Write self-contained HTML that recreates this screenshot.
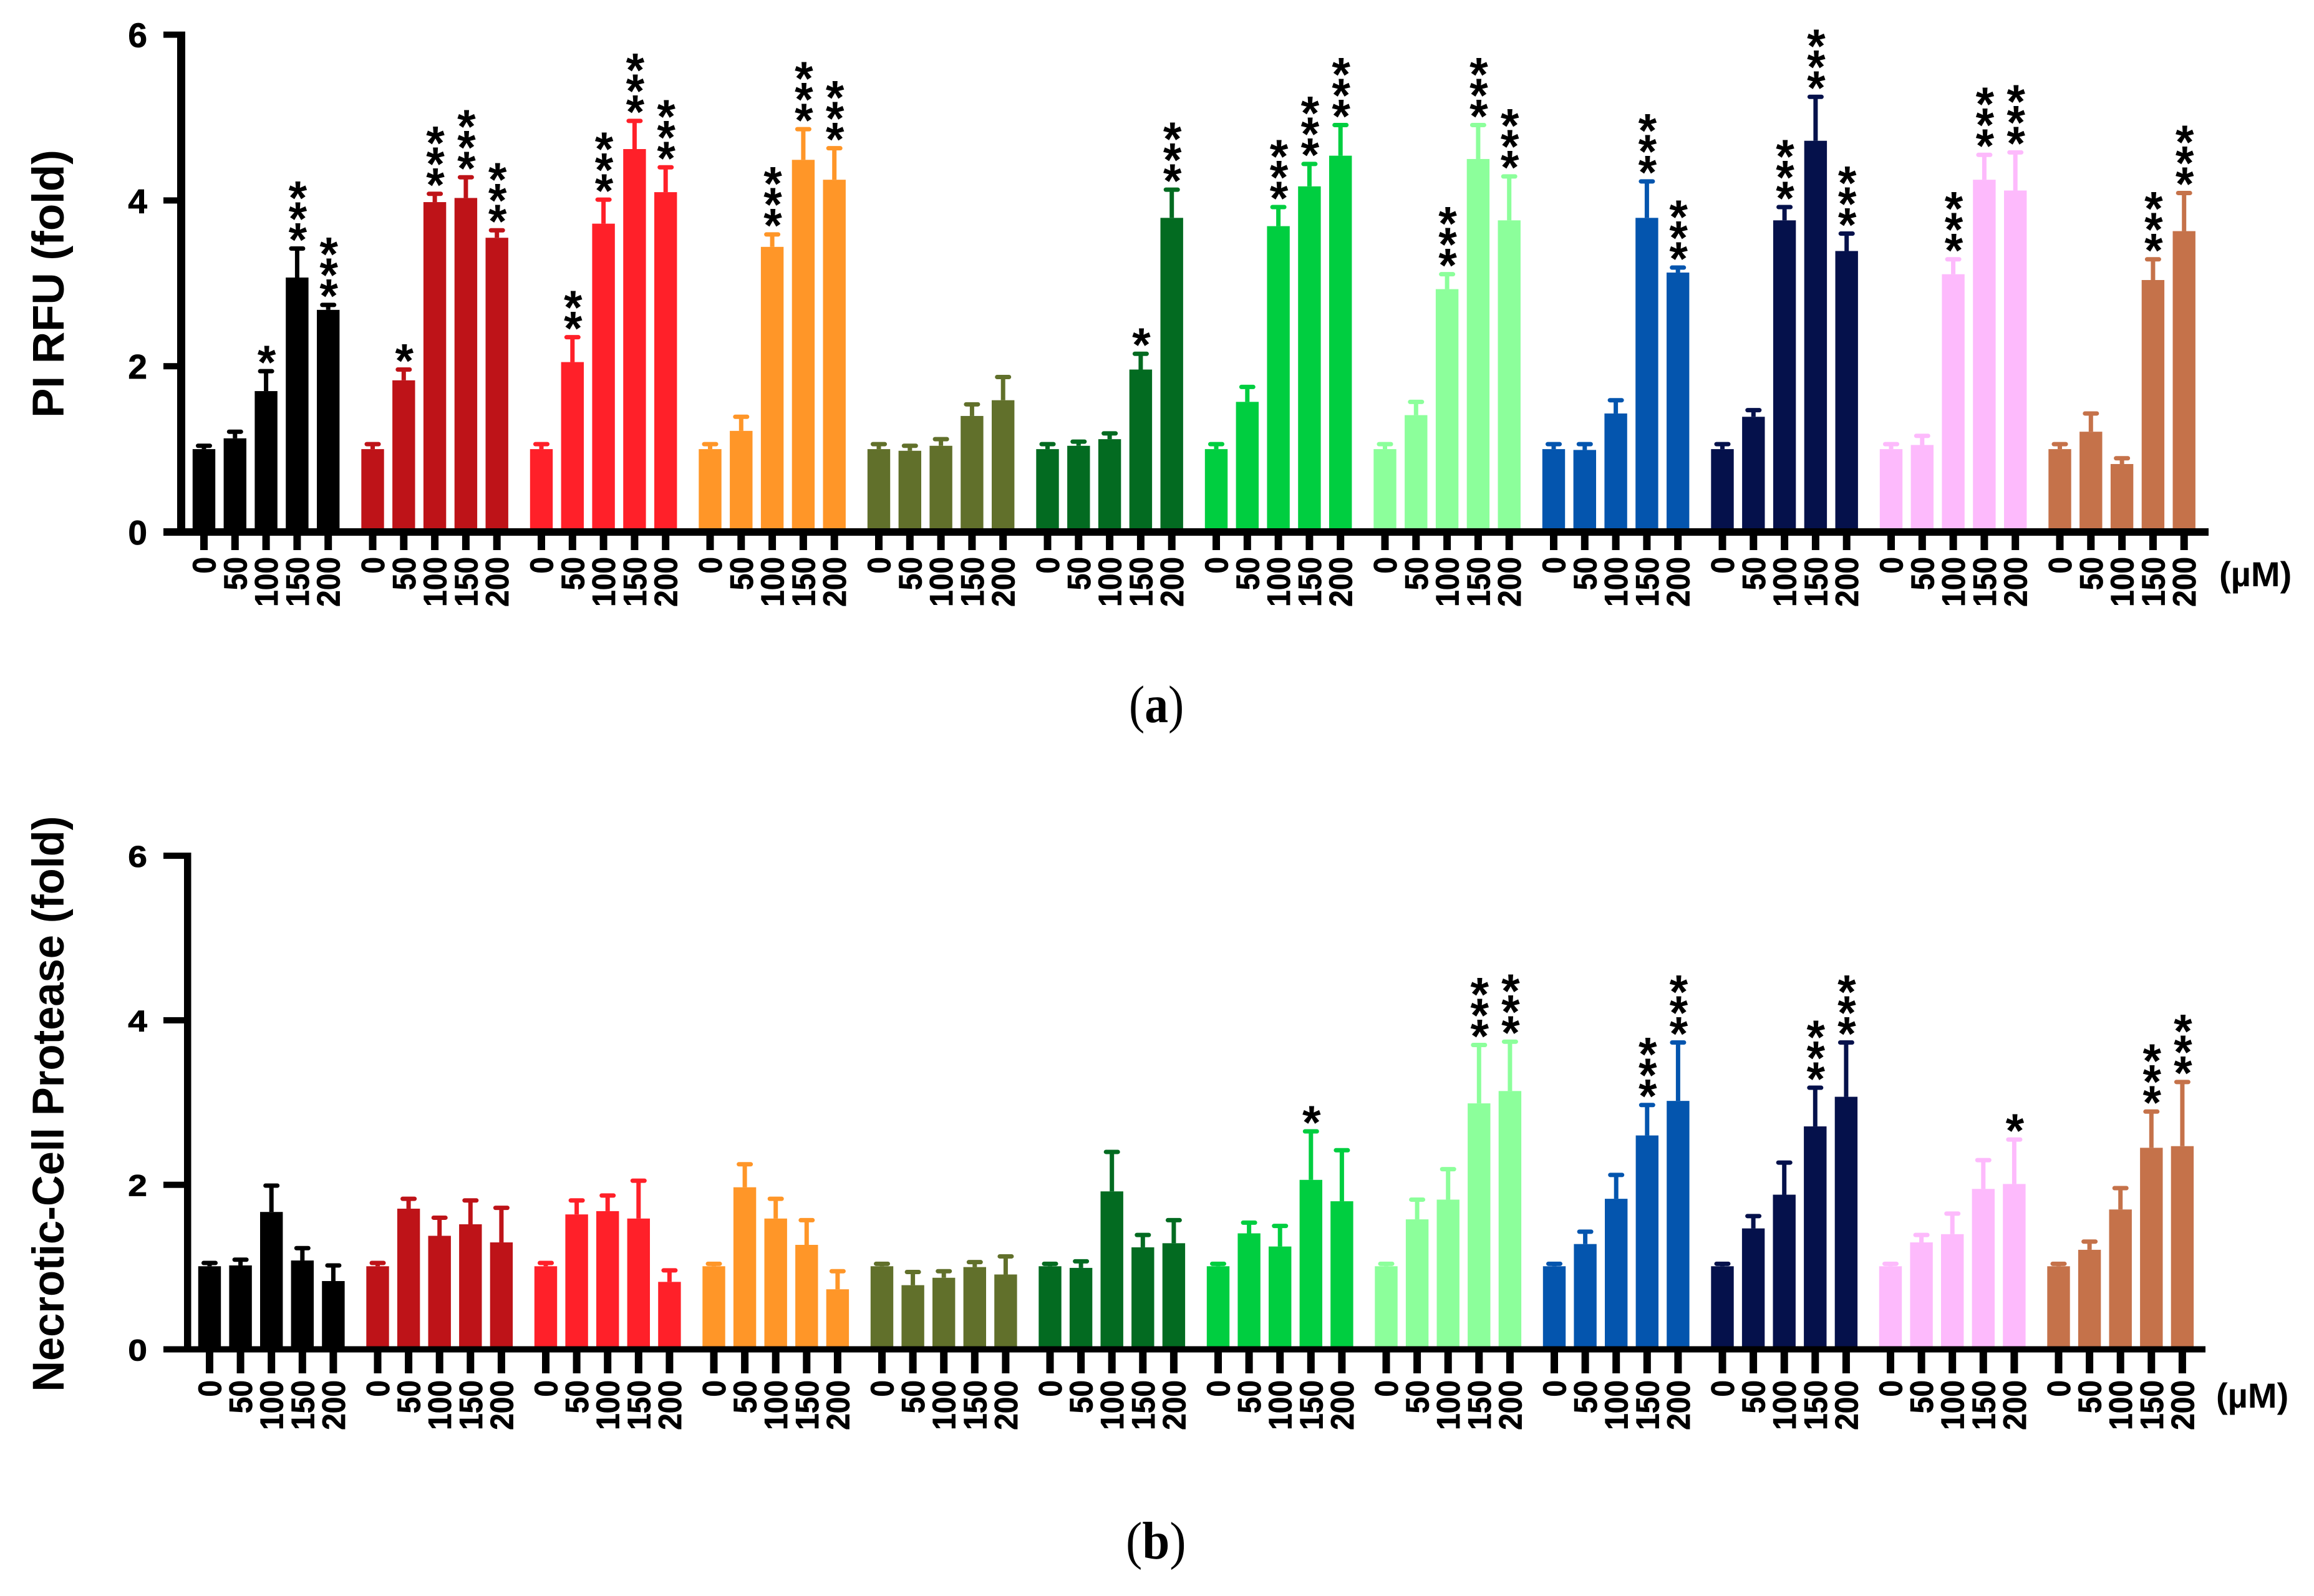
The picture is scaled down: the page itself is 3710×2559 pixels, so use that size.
<!DOCTYPE html>
<html lang="en">
<head>
<meta charset="utf-8">
<title>PI RFU and Necrotic-Cell Protease bar charts</title>
<style>
html,body{margin:0;padding:0;background:#fff;}
svg{display:block;}
text{font-family:"Liberation Sans",Arial,sans-serif;font-weight:bold;fill:#000;}
text.cap{font-family:"Liberation Serif","Times New Roman",serif;font-weight:normal;}
text.cap tspan{font-weight:bold;}
</style>
</head>
<body>
<svg id="figure" xmlns="http://www.w3.org/2000/svg" width="3710" height="2559" viewBox="0 0 3710 2559">
  <rect x="0" y="0" width="3710" height="2559" fill="#ffffff"/>
  <g id="panel-a"></g>
  <g id="panel-b"></g>
  <text class="cap" x="0" y="0" font-size="85" transform="translate(1810,1158) scale(0.89,1)">(<tspan>a</tspan>)</text>
  <text class="cap" x="0" y="0" font-size="85" transform="translate(1805,2499) scale(0.93,1)">(<tspan>b</tspan>)</text>
</svg>
<script>
// ---- data ----
const concentrations = ['0', '50', '100', '150', '200'];
const yTicks = [0, 2, 4, 6];
const groupColors = ['#000000', '#BE1318', '#FF2029', '#FF9628', '#61702B', '#036B21', '#00CE40', '#8CFF9B', '#0455AE', '#05114B', '#FDBAFC', '#C5724A'];

const piMeans = [
  [1.00, 1.13, 1.70, 3.07, 2.68],
  [1.00, 1.83, 3.98, 4.03, 3.55],
  [1.00, 2.05, 3.72, 4.62, 4.10],
  [1.00, 1.22, 3.44, 4.49, 4.25],
  [1.00, 0.98, 1.04, 1.40, 1.59],
  [1.00, 1.04, 1.12, 1.96, 3.79],
  [1.00, 1.57, 3.69, 4.17, 4.54],
  [1.00, 1.41, 2.93, 4.50, 3.76],
  [1.00, 0.99, 1.43, 3.79, 3.13],
  [1.00, 1.39, 3.76, 4.72, 3.39],
  [1.00, 1.05, 3.11, 4.25, 4.12],
  [1.00, 1.21, 0.82, 3.04, 3.63]
];
const piUpper = [
  [1.04, 1.21, 1.94, 3.42, 2.74],
  [1.06, 1.96, 4.08, 4.28, 3.64],
  [1.06, 2.35, 4.01, 4.96, 4.40],
  [1.06, 1.39, 3.59, 4.86, 4.63],
  [1.06, 1.04, 1.12, 1.54, 1.87],
  [1.06, 1.09, 1.19, 2.15, 4.13],
  [1.06, 1.75, 3.92, 4.44, 4.91],
  [1.06, 1.57, 3.11, 4.91, 4.29],
  [1.06, 1.06, 1.59, 4.23, 3.19],
  [1.06, 1.47, 3.92, 5.25, 3.60],
  [1.06, 1.16, 3.29, 4.55, 4.58],
  [1.06, 1.43, 0.89, 3.29, 4.09]
];
const piStars = [
  [0, 0, 1, 3, 3],
  [0, 1, 3, 3, 3],
  [0, 2, 3, 3, 3],
  [0, 0, 3, 3, 3],
  [0, 0, 0, 0, 0],
  [0, 0, 0, 1, 3],
  [0, 0, 3, 3, 3],
  [0, 0, 3, 3, 3],
  [0, 0, 0, 3, 3],
  [0, 0, 3, 3, 3],
  [0, 0, 3, 3, 3],
  [0, 0, 0, 3, 3]
];

const proteaseMeans = [
  [1.01, 1.02, 1.67, 1.08, 0.83],
  [1.01, 1.71, 1.38, 1.52, 1.30],
  [1.01, 1.64, 1.68, 1.59, 0.82],
  [1.01, 1.97, 1.59, 1.27, 0.73],
  [1.01, 0.78, 0.87, 1.00, 0.91],
  [1.01, 0.99, 1.92, 1.24, 1.29],
  [1.01, 1.41, 1.25, 2.06, 1.80],
  [1.01, 1.58, 1.82, 2.99, 3.14],
  [1.01, 1.28, 1.83, 2.60, 3.02],
  [1.01, 1.47, 1.88, 2.71, 3.07],
  [1.01, 1.30, 1.40, 1.95, 2.01],
  [1.01, 1.21, 1.70, 2.45, 2.47]
];
const proteaseUpper = [
  [1.05, 1.09, 1.99, 1.23, 1.02],
  [1.05, 1.83, 1.60, 1.81, 1.72],
  [1.05, 1.81, 1.87, 2.05, 0.96],
  [1.04, 2.25, 1.83, 1.57, 0.95],
  [1.04, 0.94, 0.95, 1.06, 1.13],
  [1.04, 1.07, 2.40, 1.39, 1.57],
  [1.04, 1.54, 1.50, 2.65, 2.42],
  [1.04, 1.82, 2.19, 3.70, 3.74],
  [1.04, 1.43, 2.12, 2.97, 3.73],
  [1.04, 1.62, 2.27, 3.18, 3.73],
  [1.04, 1.39, 1.65, 2.30, 2.55],
  [1.04, 1.31, 1.96, 2.89, 3.25]
];
const proteaseStars = [
  [0, 0, 0, 0, 0],
  [0, 0, 0, 0, 0],
  [0, 0, 0, 0, 0],
  [0, 0, 0, 0, 0],
  [0, 0, 0, 0, 0],
  [0, 0, 0, 0, 0],
  [0, 0, 0, 1, 0],
  [0, 0, 0, 3, 3],
  [0, 0, 0, 3, 3],
  [0, 0, 0, 3, 3],
  [0, 0, 0, 0, 1],
  [0, 0, 0, 3, 3]
];

// ---- rendering ----
const NS = 'http://www.w3.org/2000/svg';
function make(parent, tag, attrs, content) {
  const el = document.createElementNS(NS, tag);
  for (const k in attrs) el.setAttribute(k, attrs[k]);
  if (content !== undefined) el.textContent = content;
  parent.appendChild(el);
  return el;
}

function drawPanel(cfg, means, upper, stars) {
  const root = document.getElementById(cfg.id);
  const yScale = v => cfg.y0 - v * cfg.unit;
  const xScale = (g, i) => cfg.x0 + g * cfg.groupStep + i * cfg.barStep;
  const color = g => groupColors[g % groupColors.length];

  means.forEach((series, g) => {
    series.forEach((value, i) => {
      const cx = xScale(g, i);
      const top = yScale(value);
      const capY = yScale(upper[g][i]);

      const stem = make(root, 'rect', {x: cx - 3.5, y: capY, width: 7, height: Math.max(0, top - capY), fill: color(g)});
      
      

      const cap = make(root, 'rect', {x: cx - 13, y: capY - 3.5, width: 26, height: 7, rx: 3.5, ry: 3.5, fill: color(g)});
      
      

      const bar = make(root, 'rect', {x: cx - 18.2, y: top, width: 36.4, height: cfg.y0 - top, fill: color(g)});
      
      

      for (let s = 0; s < stars[g][i]; s++) {
        const starCenter = capY - 30 - s * 33.5;
        const star = make(root, 'text', {x: cx + 1, y: starCenter + 0.55 * 76, 'font-size': 76, 'text-anchor': 'middle'}, '*');
        
        
      }

      const tick = make(root, 'rect', {x: cx - 6, y: cfg.y0, width: 12, height: cfg.xTickEnd - cfg.y0, fill: '#000'});
      
      

      const lx = cx + 18.5;
      const label = make(root, 'text', {x: 0, y: 0, 'font-size': 52, 'text-anchor': 'end', stroke: '#000', 'stroke-width': 0.8, transform: 'translate(' + lx + ',' + cfg.labelTop + ') rotate(-90) scale(0.92,1)'}, concentrations[i]);
      
      
    });
  });

  // axes
  const yAxis = make(root, 'rect', {x: cfg.axisX, y: yScale(6) - cfg.tickT / 2, width: cfg.axisW, height: cfg.y0 - yScale(6) + cfg.tickT / 2 + cfg.baseT / 2, fill: '#000'});
  
  

  const xAxis = make(root, 'rect', {x: 262, y: cfg.y0 - cfg.baseT / 2, width: cfg.xEnd - 262, height: cfg.baseT, fill: '#000'});
  
  

  yTicks.forEach(t => {
    const ty = yScale(t);
    const tk = make(root, 'rect', {x: 262, y: ty - cfg.tickT / 2, width: cfg.axisX - 262, height: cfg.tickT, fill: '#000'});
    
    

    const tl = make(root, 'text', {x: 0, y: 0, 'font-size': cfg.yLabelSize, 'text-anchor': 'end', stroke: '#000', 'stroke-width': 0.8, transform: 'translate(236,' + (ty + cfg.yLabelDy) + ') scale(' + cfg.yLabelStretch + ',1)'}, String(t));
    
    
  });

  const title = make(root, 'text', {x: 0, y: 0, 'font-size': 71, 'text-anchor': 'middle', transform: 'translate(102,' + cfg.titleY + ') rotate(-90) scale(' + cfg.titleStretch + ',1)'}, cfg.title);
  
  

  const unit = make(root, 'text', {x: cfg.unitX, y: cfg.unitY, 'font-size': 56}, '(\u00B5M)');
  
  
}

drawPanel({
  id: 'panel-a', y0: 853, unit: 132.9, x0: 327, groupStep: 270.5, barStep: 49.8,
  axisX: 284, axisW: 13, baseT: 12, tickT: 10, xEnd: 3541, xTickEnd: 882, labelTop: 893,
  yLabelDy: 20, yLabelSize: 55, yLabelStretch: 1, title: 'PI RFU (fold)', titleStretch: 1, titleY: 455,
  unitX: 3558, unitY: 940
}, piMeans, piUpper, piStars);

drawPanel({
  id: 'panel-b', y0: 2163.5, unit: 131.9, x0: 336, groupStep: 269.5, barStep: 49.6,
  axisX: 295, axisW: 11.5, baseT: 10, tickT: 10, xEnd: 3536, xTickEnd: 2202, labelTop: 2213,
  yLabelDy: 18, yLabelSize: 48, yLabelStretch: 1.15, title: 'Necrotic-Cell Protease (fold)', titleStretch: 0.967, titleY: 1770,
  unitX: 3553, unitY: 2257
}, proteaseMeans, proteaseUpper, proteaseStars);
</script>
</body>
</html>
